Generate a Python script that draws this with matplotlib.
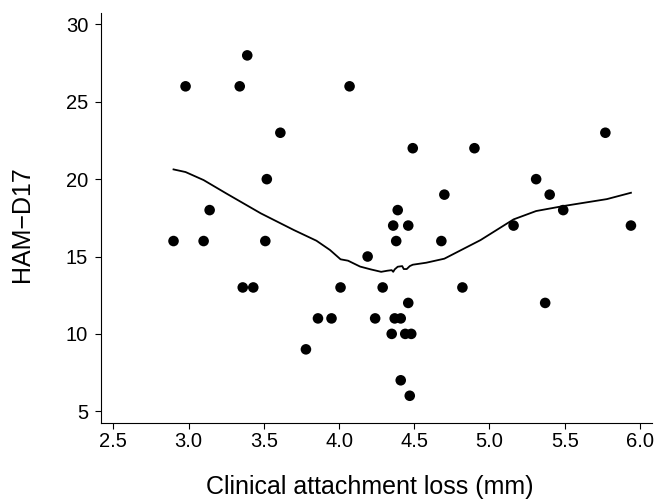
import matplotlib.pyplot as plt
import numpy as np

plt.rcParams['font.family'] = ['Liberation Sans', 'DejaVu Sans']

# ==================================== data ================================================
cal_mm = [2.90, 2.98, 3.10, 3.14, 3.34, 3.36, 3.39, 3.43, 3.51, 3.52, 3.61, 3.78,
          3.86, 3.95, 4.01, 4.07, 4.19, 4.24, 4.29, 4.35, 4.36, 4.37, 4.38, 4.39,
          4.41, 4.41, 4.44, 4.46, 4.46, 4.47, 4.48, 4.49, 4.68, 4.70, 4.82, 4.90,
          5.16, 5.31, 5.37, 5.40, 5.49, 5.77, 5.94]
ham_d17 = [16, 26, 16, 18, 26, 13, 28, 13, 16, 20, 23, 9,
           11, 11, 13, 26, 15, 11, 13, 10, 17, 11, 16, 18,
           11, 7, 10, 12, 17, 6, 10, 22, 16, 19, 13, 22,
           17, 20, 12, 19, 18, 23, 17]

# smoother
smooth_x = [2.90, 2.98, 3.10, 3.25, 3.48, 3.70, 3.85, 3.94, 4.01, 4.06, 4.14, 4.21,
            4.28, 4.32, 4.35, 4.36, 4.37, 4.39, 4.42, 4.43, 4.45, 4.47, 4.49, 4.58,
            4.70, 4.94, 5.16, 5.31, 5.49, 5.78, 5.94]
smooth_y = [20.63, 20.46, 19.94, 19.08, 17.79, 16.71, 16.02, 15.42, 14.82, 14.73, 14.35, 14.17,
            14.01, 14.08, 14.12, 14.01, 14.17, 14.34, 14.38, 14.19, 14.19, 14.38, 14.47, 14.60,
            14.86, 16.06, 17.40, 17.94, 18.26, 18.71, 19.12]

x_ticks = [2.5, 3.0, 3.5, 4.0, 4.5, 5.0, 5.5, 6.0]
y_ticks = [5, 10, 15, 20, 25, 30]

# ==================================== plot ================================================
fig = plt.figure(figsize=(6.56, 5.0), dpi=100)
ax = fig.add_axes([100.7 / 656, 1 - 423.3 / 500, 551 / 656, 410 / 500])

ax.scatter(cal_mm, ham_d17, s=58, color='black', edgecolors='none', zorder=3)
ax.plot(smooth_x, smooth_y, color='black', linewidth=1.3, zorder=2)

ax.set_xlim(2.416, 6.078)
ax.set_ylim(4.22, 30.72)
ax.set_xticks(x_ticks)
ax.set_xticklabels([f'{v:.1f}' for v in x_ticks])
ax.set_yticks(y_ticks)

for side in ['top', 'right']:
    ax.spines[side].set_visible(False)
for side in ['left', 'bottom']:
    ax.spines[side].set_linewidth(0.8)

ax.tick_params(axis='both', direction='out', length=4.5, width=0.8, labelsize=14.5, colors='black')
ax.tick_params(axis='x', pad=2)
ax.tick_params(axis='y', pad=4.5)

fig.text(370 / 656, 1 - 494 / 500, 'Clinical attachment loss (mm)', fontsize=18,
         ha='center', va='baseline')
fig.text(22.5 / 656, 1 - 224 / 500, 'HAM\u2212D17', fontsize=18,
         ha='center', va='center', rotation=90)

fig.savefig('out.png', dpi=100)
plt.close()
